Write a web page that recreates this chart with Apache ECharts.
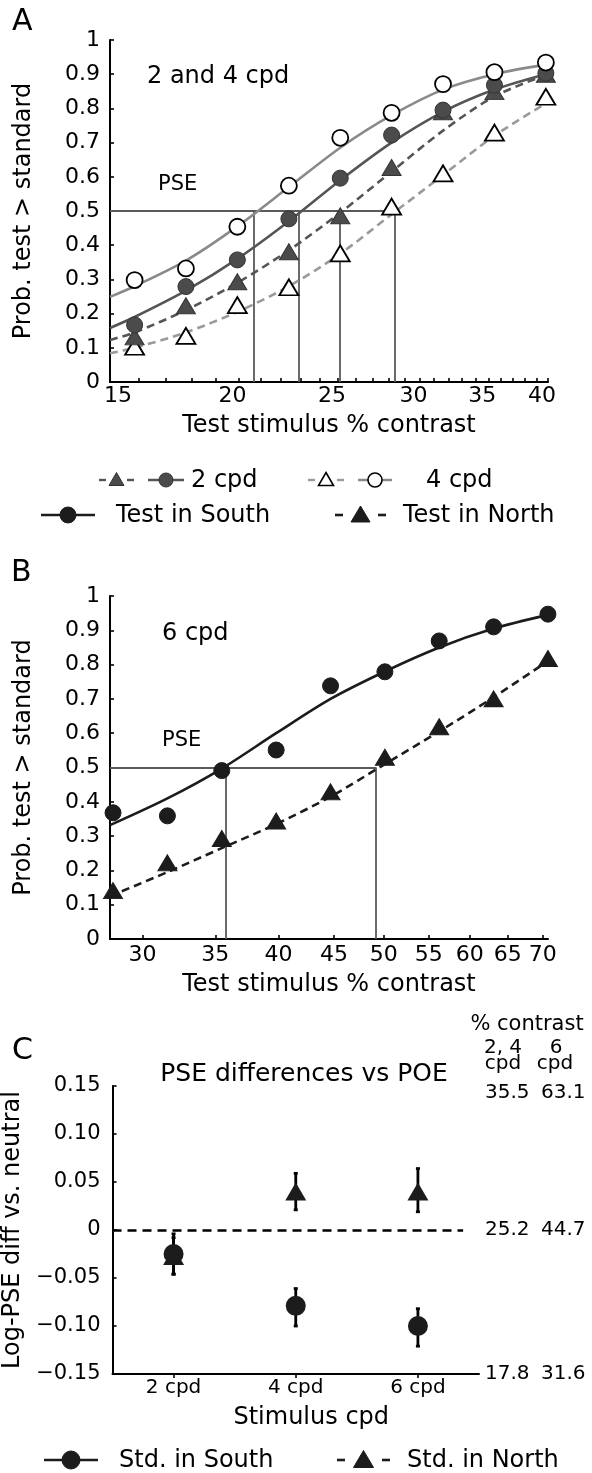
<!DOCTYPE html>
<html><head><meta charset="utf-8">
<script src="https://cdn.jsdelivr.net/npm/echarts@6/dist/echarts.min.js"></script>
<style>html,body{margin:0;padding:0;background:#fff}#c{width:592px;height:1473px}</style>
</head><body><div id="c"></div>
<script>
// ---------- Panel A data (2 and 4 cpd) ----------
const stimA = [15.85, 17.78, 19.95, 22.39, 25.12, 28.18, 31.62, 35.48, 39.81];
const a2South = [0.167, 0.279, 0.357, 0.477, 0.596, 0.722, 0.795, 0.868, 0.903];
const a2North = [0.132, 0.223, 0.293, 0.381, 0.486, 0.627, 0.790, 0.849, 0.900];
const a4South = [0.298, 0.332, 0.454, 0.574, 0.714, 0.787, 0.871, 0.906, 0.934];
const a4North = [0.103, 0.135, 0.225, 0.277, 0.376, 0.513, 0.610, 0.729, 0.834];
const fitXA = [15, 15.85, 17.78, 19.95, 22.39, 25.12, 28.18, 31.62, 35.48, 39.81];
const fitA2South = [0.158, 0.190, 0.267, 0.360, 0.470, 0.590, 0.700, 0.790, 0.855, 0.900];
const fitA2North = [0.123, 0.145, 0.210, 0.290, 0.385, 0.495, 0.615, 0.735, 0.835, 0.898];
const fitA4South = [0.249, 0.280, 0.355, 0.455, 0.570, 0.685, 0.780, 0.855, 0.900, 0.928];
const fitA4North = [0.084, 0.100, 0.145, 0.205, 0.280, 0.375, 0.490, 0.605, 0.720, 0.815];
const pseA = [20.7, 22.9, 25.1, 28.35];
const labelsA = [15, 20, 25, 30, 35, 40];
const ticksA = [15,16,17,18,19,20,21,22,23,24,25,26,27,28,29,30,31,32,33,34,35,36,37,38,39,40];
const rangeA = [15, 40];

// ---------- Panel B data (6 cpd) ----------
const stimB = [28.18, 31.62, 35.48, 39.81, 44.67, 50.12, 56.23, 63.10, 70.79];
const b6South = [0.368, 0.359, 0.491, 0.551, 0.738, 0.779, 0.869, 0.910, 0.947];
const b6North = [0.141, 0.222, 0.293, 0.344, 0.429, 0.530, 0.619, 0.700, 0.818];
const fitXB = [28, 31.62, 35.48, 39.81, 44.67, 50.12, 56.23, 63.10, 70.79];
const fitB6South = [0.332, 0.410, 0.497, 0.600, 0.700, 0.780, 0.850, 0.905, 0.945];
const fitB6North = [0.125, 0.195, 0.265, 0.335, 0.415, 0.510, 0.605, 0.705, 0.810];
const pseB = [35.8, 49.2];
const labelsB = [30, 35, 40, 45, 50, 55, 60, 65, 70];
const rangeB = [28, 70.8];

// ---------- Panel C data ----------
const cpdLabels = ['2 cpd', '4 cpd', '6 cpd'];
const southPSE = [-0.025, -0.079, -0.100];
const southLo  = [-0.046, -0.100, -0.121];
const southHi  = [-0.004, -0.061, -0.082];
const northPSE = [-0.027, 0.040, 0.040];
const northLo  = [-0.046, 0.021, 0.019];
const northHi  = [-0.008, 0.059, 0.064];
const cRightVals = [-0.15, 0, 0.15];
const contrast24 = ['17.8', '25.2', '35.5'];
const contrast6 = ['31.6', '44.7', '63.1'];
const zeroLineX = [0.5, 3.37];

// ---------- helpers ----------
const L = Math.log10;
const FONT = 'DejaVu Sans';
const DARKFILL = '#4b4b4b', DARKLINE = '#555555', LIGHTLINE = '#8a8a8a', LIGHTDASH = '#9a9a9a', BLK = '#1c1c1c';
const pairs = (xs, ys) => xs.map((x, i) => [L(x), ys[i]]);
const AX = {color: '#000', width: 2};
const TK = {color: '#000', width: 1.6};
const txtStyle = (size) => ({color: '#000', fontSize: size, fontFamily: FONT});

function probY(gridIndex) {
  return {
    type: 'value', gridIndex, min: 0, max: 1, interval: 0.1,
    axisLine: {show: true, lineStyle: AX},
    axisTick: {show: true, inside: true, length: 4, lineStyle: TK},
    axisLabel: Object.assign(txtStyle(22), {margin: 10, formatter: v => String(Math.round(v * 10) / 10)}),
    splitLine: {show: false},
    name: 'Prob. test > standard', nameLocation: 'middle', nameGap: 74,
    nameTextStyle: txtStyle(24)
  };
}

const fitLine = (xi, yi, xs, ys, color, dashed) => ({
  type: 'line', xAxisIndex: xi, yAxisIndex: yi, data: pairs(xs, ys),
  smooth: 0.3, showSymbol: false, clip: false, silent: true, z: 3,
  lineStyle: {color, width: 2.6, type: dashed ? [8, 5] : 'solid'}
});
const pts = (xi, yi, xs, ys, symbol, size, fill, stroke, bw, z) => ({
  type: 'scatter', xAxisIndex: xi, yAxisIndex: yi, data: pairs(xs, ys),
  symbol, symbolSize: size, clip: false, silent: true, z: z || 5,
  itemStyle: {color: fill, borderColor: stroke, borderWidth: bw, opacity: 1}
});
const pseLines = (xi, yi, pses, xmin) => ({
  type: 'lines', coordinateSystem: 'cartesian2d', xAxisIndex: xi, yAxisIndex: yi, silent: true, z: 1,
  lineStyle: {color: '#5a5a5a', width: 1.8, opacity: 1},
  data: pses.map(p => ({coords: [[L(p), 0], [L(p), 0.5]]}))
    .concat([{coords: [[L(xmin), 0.5], [L(Math.max(...pses)), 0.5]]}])
});

// ---------- graphic (panel letters, annotations, legends) ----------
const G = [];
function txt(text, x, y, size, align) {
  align = align || 'left';
  G.push({type: 'text', x, y, silent: true, z: 100,
    style: {text, fontSize: size, fontFamily: FONT, fill: '#000',
      align, verticalAlign: 'middle', textAlign: align, textVerticalAlign: 'middle'}});
}
function seg(x1, x2, y, color, w) {
  G.push({type: 'line', silent: true, z: 100, shape: {x1, y1: y, x2, y2: y}, style: {stroke: color, lineWidth: w}});
}
function circ(cx, cy, r, fill, stroke, lw) {
  G.push({type: 'circle', silent: true, z: 101, shape: {cx, cy, r}, style: {fill, stroke, lineWidth: lw}});
}
function tri(cx, cy, w, h, fill, stroke, lw) {
  G.push({type: 'polygon', silent: true, z: 101,
    shape: {points: [[cx, cy - h / 2], [cx + w / 2, cy + h / 2], [cx - w / 2, cy + h / 2]]},
    style: {fill, stroke, lineWidth: lw}});
}
// panel letters
txt('A', 12, 22, 30); txt('B', 11, 573, 30); txt('C', 12, 1051, 30);
// panel texts
txt('2 and 4 cpd', 147, 77, 24);
txt('PSE', 158, 185, 21);
txt('6 cpd', 162, 634, 24);
txt('PSE', 162, 741, 21);
txt('PSE differences vs POE', 304, 1074, 25, 'center');
txt('% contrast', 527, 1025, 21, 'center');
txt('2, 4', 503, 1048, 20, 'center'); txt('6', 556, 1048, 20, 'center');
txt('cpd', 503, 1064, 20, 'center'); txt('cpd', 555, 1064, 20, 'center');
// legend A row 1
seg(99, 106, 480, DARKLINE, 2.4); seg(127, 134, 480, DARKLINE, 2.4); tri(116.5, 479, 15, 13, DARKFILL, '#333', 1);
seg(148, 184, 480, DARKLINE, 2.4); circ(166, 480, 7, DARKFILL, '#333', 1);
txt('2 cpd', 191, 481, 24);
seg(308, 315, 480, LIGHTDASH, 2.4); seg(337, 344, 480, LIGHTDASH, 2.4); tri(326, 479, 15, 13, '#fff', '#000', 1.6);
seg(358, 392, 480, LIGHTLINE, 2.4); circ(375, 480, 7, '#fff', '#000', 1.6);
txt('4 cpd', 426, 481, 24);
// legend A row 2
seg(41, 95, 515, BLK, 2.6); circ(68, 515, 8, BLK, BLK, 1);
txt('Test in South', 116, 516, 24);
seg(335, 343, 515, BLK, 2.6); seg(378, 386, 515, BLK, 2.6); tri(360.5, 514, 19, 16, BLK, BLK, 1);
txt('Test in North', 403, 516, 24);
// legend C
seg(44, 98, 1460, BLK, 2.6); circ(71, 1460, 9, BLK, BLK, 1);
txt('Std. in South', 119, 1461, 24);
seg(337, 345, 1460, BLK, 2.6); seg(382, 390, 1460, BLK, 2.6); tri(363.5, 1459, 20, 17, BLK, BLK, 1);
txt('Std. in North', 407, 1461, 24);

// ---------- axes ----------
const xA = {
  type: 'value', gridIndex: 0, min: L(rangeA[0]), max: L(rangeA[1]),
  axisLine: {show: true, onZero: false, lineStyle: AX},
  axisTick: {show: true, inside: true, length: 4, customValues: ticksA.map(L), lineStyle: TK},
  axisLabel: Object.assign(txtStyle(22), {
    margin: 3, customValues: labelsA.map(L),
    formatter: v => { const c = Math.round(Math.pow(10, v)); return c === rangeA[0] ? '{f|' + c + '}' : '{n|' + c + '}'; },
    rich: {f: Object.assign(txtStyle(22), {padding: [0, 0, 0, 16]}), n: Object.assign(txtStyle(22), {padding: [0, 12, 0, 0]})}
  }),
  splitLine: {show: false},
  name: 'Test stimulus % contrast', nameLocation: 'middle', nameGap: 32, nameTextStyle: txtStyle(24)
};
const xB = {
  type: 'value', gridIndex: 1, min: L(rangeB[0]), max: L(rangeB[1]),
  axisLine: {show: true, onZero: false, lineStyle: AX},
  axisTick: {show: true, inside: true, length: 4, customValues: labelsB.map(L), lineStyle: TK},
  axisLabel: Object.assign(txtStyle(22), {margin: 5, customValues: labelsB.map(L),
    formatter: v => String(Math.round(Math.pow(10, v)))}),
  splitLine: {show: false},
  name: 'Test stimulus % contrast', nameLocation: 'middle', nameGap: 34, nameTextStyle: txtStyle(24)
};
const cIdx = cpdLabels.map((_, i) => i + 1);
const xC = {
  type: 'value', gridIndex: 2, min: 0.5, max: cpdLabels.length + 0.5,
  axisLine: {show: true, onZero: false, lineStyle: AX},
  axisTick: {show: true, inside: false, length: 4, customValues: cIdx, lineStyle: TK},
  axisLabel: Object.assign(txtStyle(20), {margin: 4, customValues: cIdx, formatter: v => cpdLabels[Math.round(v) - 1]}),
  splitLine: {show: false},
  name: 'Stimulus cpd', nameLocation: 'middle', nameGap: 32,
  nameTextStyle: Object.assign(txtStyle(24), {padding: [0, 0, 0, 31]})
};
const fmtC = v => {
  const r = Math.round(v * 100) / 100;
  if (r === 0) return '0';
  const s = Math.abs(r).toFixed(2);
  return r < 0 ? '\u2212' + s : s;
};
const yC = {
  type: 'value', gridIndex: 2, min: -0.15, max: 0.15, interval: 0.05,
  axisLine: {show: true, onZero: false, lineStyle: AX},
  axisTick: {show: true, inside: true, length: 4, lineStyle: TK},
  axisLabel: Object.assign(txtStyle(21), {margin: 12, formatter: fmtC}),
  splitLine: {show: false},
  name: 'Log-PSE diff vs. neutral', nameLocation: 'middle', nameGap: 76, nameTextStyle: txtStyle(24)
};
const rightAxis = (arr, offset) => ({
  type: 'value', gridIndex: 2, position: 'right', offset, min: -0.15, max: 0.15,
  axisLine: {show: false}, axisTick: {show: false}, splitLine: {show: false},
  axisLabel: Object.assign(txtStyle(20), {
    margin: 6, customValues: cRightVals,
    formatter: v => {
      const i = cRightVals.findIndex(t => Math.abs(t - v) < 1e-6);
      return i === cRightVals.length - 1 ? '{t|' + arr[i] + '}' : arr[i];
    },
    rich: {t: Object.assign(txtStyle(20), {padding: [13, 0, 0, 0]})}
  })
});

// ---------- error bars ----------
const errBars = (lo, hi) => ({
  type: 'custom', xAxisIndex: 2, yAxisIndex: 2, silent: true, z: 4, clip: false,
  data: cIdx.map((x, i) => [x, lo[i], hi[i]]),
  encode: {x: 0, y: [1, 2]},
  renderItem: (params, api) => {
    const x = api.value(0);
    const p1 = api.coord([x, api.value(1)]), p2 = api.coord([x, api.value(2)]);
    const w = 4, st = {stroke: '#000', lineWidth: 2.8};
    return {type: 'group', children: [
      {type: 'line', shape: {x1: p1[0], y1: p1[1], x2: p2[0], y2: p2[1]}, style: st},
      {type: 'line', shape: {x1: p1[0] - w / 2, y1: p1[1], x2: p1[0] + w / 2, y2: p1[1]}, style: st},
      {type: 'line', shape: {x1: p2[0] - w / 2, y1: p2[1], x2: p2[0] + w / 2, y2: p2[1]}, style: st}
    ]};
  }
});

const option = {
  animation: false,
  backgroundColor: '#fff',
  textStyle: {fontFamily: FONT},
  grid: [
    {left: 110, top: 40, width: 438, height: 342, containLabel: false, outerBoundsMode: 'none'},
    {left: 110, top: 596, width: 438, height: 343, containLabel: false, outerBoundsMode: 'none'},
    {left: 112.5, top: 1086, width: 366.5, height: 288, containLabel: false, outerBoundsMode: 'none'}
  ],
  xAxis: [xA, xB, xC],
  yAxis: [probY(0), probY(1), yC, rightAxis(contrast24, 0), rightAxis(contrast6, 56)],
  graphic: {elements: G},
  series: [
    // Panel A
    pseLines(0, 0, pseA, rangeA[0]),
    fitLine(0, 0, fitXA, fitA4North, LIGHTDASH, true),
    fitLine(0, 0, fitXA, fitA2North, DARKLINE, true),
    fitLine(0, 0, fitXA, fitA4South, LIGHTLINE, false),
    fitLine(0, 0, fitXA, fitA2South, DARKLINE, false),
    pts(0, 0, stimA, a4North, 'triangle', [19, 16], '#fff', '#000', 1.8, 5),
    pts(0, 0, stimA, a2North, 'triangle', [19, 16], DARKFILL, '#333', 1, 6),
    pts(0, 0, stimA, a2South, 'circle', 16, DARKFILL, '#333', 1, 7),
    pts(0, 0, stimA, a4South, 'circle', 16, '#fff', '#000', 1.8, 8),
    // Panel B
    pseLines(1, 1, pseB, rangeB[0]),
    fitLine(1, 1, fitXB, fitB6North, BLK, true),
    fitLine(1, 1, fitXB, fitB6South, BLK, false),
    pts(1, 1, stimB, b6North, 'triangle', [19, 16], BLK, BLK, 1, 6),
    pts(1, 1, stimB, b6South, 'circle', 16, BLK, BLK, 1, 7),
    // Panel C
    {type: 'lines', coordinateSystem: 'cartesian2d', xAxisIndex: 2, yAxisIndex: 2, silent: true, z: 1,
      lineStyle: {color: '#000', width: 2.6, type: [9, 6], opacity: 1},
      data: [{coords: [[zeroLineX[0], 0], [zeroLineX[1], 0]]}]},
    errBars(northLo, northHi),
    errBars(southLo, southHi),
    {type: 'scatter', xAxisIndex: 2, yAxisIndex: 2, silent: true, z: 6, symbol: 'triangle', symbolSize: [21, 18],
      data: cIdx.map((x, i) => [x, northPSE[i]]), itemStyle: {color: BLK, opacity: 1}},
    {type: 'scatter', xAxisIndex: 2, yAxisIndex: 2, silent: true, z: 7, symbol: 'circle', symbolSize: 20,
      data: cIdx.map((x, i) => [x, southPSE[i]]), itemStyle: {color: BLK, opacity: 1}}
  ]
};

const chart = echarts.init(document.getElementById('c'), null, {renderer: 'canvas', width: 592, height: 1473});
chart.setOption(option);
</script>
</body></html>
